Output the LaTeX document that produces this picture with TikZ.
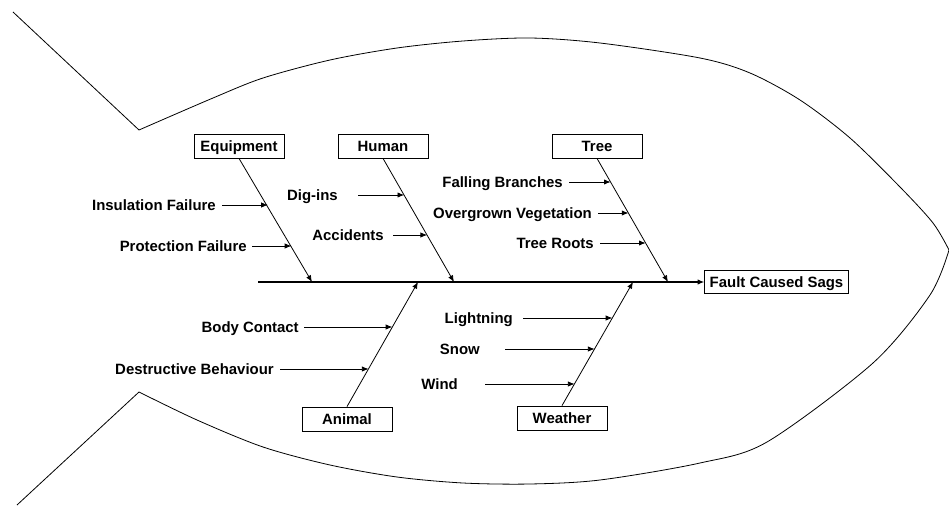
\documentclass[tikz,border=0pt]{standalone}
\usepackage{fontspec}
\setmainfont{Liberation Sans}
\usetikzlibrary{arrows.meta}

\begin{document}
\begin{tikzpicture}[x=0.75pt, y=-0.75pt,
    font=\fontsize{11.2}{13}\selectfont\bfseries,
    every node/.style={text height=8pt, text depth=0pt},
    category/.style={rectangle, draw, line width=0.6pt, minimum width=67.5pt, minimum height=18pt, inner sep=2pt},
    cause/.style={anchor=east, inner sep=0pt},
    bone/.style={line width=0.6pt, -{Latex[length=5pt, width=4pt]}},
    twig/.style={line width=0.6pt, shorten <=4.5pt, -{Latex[length=5pt, width=4pt]}}]
    \useasboundingbox (0,0) rectangle (949,506);

    % outline of the fish
    \draw[line width=0.6pt] (13,12) -- plot[smooth] coordinates {(139,130) (213,98) (263,78) (330,60) (397,48) (463,41) (530,38) (600,43) (700,58) (750,73) (800,100) (850,138) (900,187) (933,223) (949,250)};
    \draw[line width=0.6pt] (17,505) -- plot[smooth] coordinates {(139,392) (197,420) (263,447) (330,465) (397,477) (463,483) (530,484) (600,480) (700,463) (767,442) (873,363) (930,295) (949,250)};

    % head and spine
    \node[category, inner xsep=3.75pt, minimum height=17.25pt] (sags) at (776.5,282) {Fault Caused Sags};
    \coordinate (tail) at (258,282);
    \draw[bone, line width=0.8pt] (tail) -- (sags.west);

    % categories
    \node[category] (equip) at (239,146) {Equipment};
    \node[category] (human) at (383,146) {Human};
    \node[category] (tree) at (597,146) {Tree};
    \node[category] (animal) at (347,419) {Animal};
    \node[category] (weather) at (562,418) {Weather};

    \coordinate (eqtip) at (312,282);
    \coordinate (hutip) at (454,282);
    \coordinate (trtip) at (668,282);
    \coordinate (antip) at (418,282);
    \coordinate (wetip) at (633,282);
    \draw[bone] (equip.south) -- (eqtip);
    \draw[bone] (human.south) -- (hutip);
    \draw[bone] (tree.south) -- (trtip);
    \draw[bone] (animal.north) -- (antip);
    \draw[bone] (weather.north) -- (wetip);

    % causes
    \coordinate (eq1) at (267.9,205);
    \coordinate (eq2) at (291.4,246);
    \coordinate (hu1) at (404.2,195);
    \coordinate (hu2) at (427.1,235);
    \coordinate (tr1) at (610.7,182);
    \coordinate (tr2) at (628.5,213);
    \coordinate (tr3) at (645.7,243);
    \coordinate (an1) at (392.4,327);
    \coordinate (an2) at (368.6,369);
    \coordinate (we1) at (612.4,318);
    \coordinate (we2) at (594.6,349);
    \coordinate (we3) at (574.6,384);

    \node[cause] (insul) at (216,205) {Insulation Failure};
    \node[cause] (prot) at (247,246) {Protection Failure};
    \node[cause] (digins) at (338,195) {Dig-ins};
    \node[cause] (accid) at (384,235) {Accidents};
    \node[cause] (branch) at (563,182) {Falling Branches};
    \node[cause] (vegetat) at (592,213) {Overgrown Vegetation};
    \node[cause] (roots) at (594,243) {Tree Roots};
    \node[cause] (contact) at (299,327) {Body Contact};
    \node[cause] (destr) at (274,369) {Destructive Behaviour};
    \node[cause] (light) at (513,318) {Lightning};
    \node[cause] (snow) at (480,349) {Snow};
    \node[cause] (wind) at (458,384) {Wind};

    \draw[twig] (insul.east) -- (eq1);
    \draw[twig, shorten <=3.75pt] (prot.east) -- (eq2);
    \draw[twig, shorten <=15pt] (digins.east) -- (hu1);
    \draw[twig, shorten <=6.75pt] (accid.east) -- (hu2);
    \draw[twig] (branch.east) -- (tr1);
    \draw[twig] (vegetat.east) -- (tr2);
    \draw[twig] (roots.east) -- (tr3);
    \draw[twig, shorten <=3.75pt] (contact.east) -- (an1);
    \draw[twig] (destr.east) -- (an2);
    \draw[twig, shorten <=7.5pt] (light.east) -- (we1);
    \draw[twig, shorten <=18.75pt] (snow.east) -- (we2);
    \draw[twig, shorten <=20.25pt] (wind.east) -- (we3);
\end{tikzpicture}
\end{document}
